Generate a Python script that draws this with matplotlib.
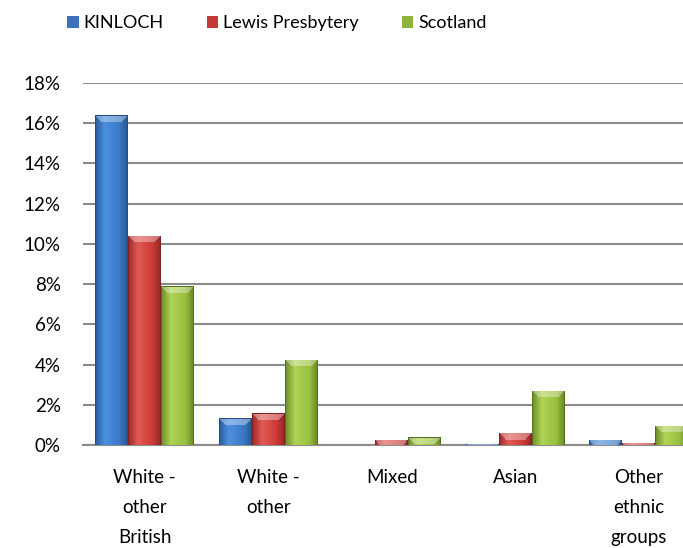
import matplotlib
matplotlib.use("Agg")
import matplotlib.pyplot as plt
import numpy as np
from matplotlib.colors import LinearSegmentedColormap
from matplotlib.ticker import PercentFormatter, MultipleLocator

plt.rcParams['font.family'] = ['Lato', 'DejaVu Sans']

categories = ["White -\nother\nBritish", "White -\nother", "Mixed", "Asian", "Other\nethnic\ngroups"]
series = ["KINLOCH", "Lewis Presbytery", "Scotland"]
kinloch = [0.164, 0.0133, 0.0, 0.0005, 0.0025]
lewis = [0.104, 0.0158, 0.0025, 0.0061, 0.0012]
scotland = [0.079, 0.0423, 0.0038, 0.0269, 0.0095]
values = [kinloch, lewis, scotland]

# dark edge, light, mid, dark edge
shades = [
    ["#2a5c9e", "#4d90e0", "#3b78c6", "#2a5a98"],
    ["#9c2a2a", "#e25a55", "#cc3a36", "#972828"],
    ["#6c8c2a", "#b0d455", "#98bf3e", "#6a8a28"],
]
outline = ["#234d85", "#7f2222", "#55701f"]
legend_cols = ["#3b72bb", "#c43a36", "#8db43a"]

fig = plt.figure(figsize=(6.83, 5.48), dpi=100)
ax = fig.add_axes([0.1215, 0.188, 0.904, 0.6606])
ax.set_xlim(-0.5, len(categories) - 0.5)
ax.set_ylim(0, 0.18)

x = np.arange(len(categories))
w = 0.267
ax_w_px = 0.904 * 683
ax_h_px = 0.6606 * 548
bevel = 7
for i, (name, vals) in enumerate(zip(series, values)):
    cmap = LinearSegmentedColormap.from_list(name, list(zip([0, 0.3, 0.75, 1], shades[i])))
    dark = np.array(matplotlib.colors.to_rgb(outline[i]))
    bars = ax.bar(x + (i - 1) * w, vals, w, color=legend_cols[i], label=name,
                  edgecolor="none", zorder=3)
    for b in bars:
        if b.get_height() <= 0:
            continue
        W = max(2, int(round(b.get_width() / 5 * ax_w_px)))
        H = max(2, int(round(b.get_height() / 0.18 * ax_h_px)))
        cols = cmap(np.linspace(0, 1, W))[:, :3]
        img = np.repeat(cols[None, :, :], H, axis=0)
        for r in range(min(bevel, H)):
            c0, c1 = r, W - r
            img[r, c0:c1] = img[r, c0:c1] * 0.65 + 0.35
        img[:, 0] = dark
        img[:, -1] = dark
        img[0, :] = dark
        im = ax.imshow(img, aspect="auto", zorder=3.5, interpolation="nearest",
                       extent=[b.get_x(), b.get_x() + b.get_width(), 0, b.get_height()])
        im.set_clip_path(b)

ax.set_xlim(-0.5, len(categories) - 0.5)
ax.set_ylim(0, 0.18)
ax.yaxis.set_major_locator(MultipleLocator(0.02))
ax.yaxis.set_major_formatter(PercentFormatter(1.0, decimals=0))
ax.grid(axis="y", color="#8c8c8c", lw=1.5, zorder=0)
for s in ["left", "right", "top"]:
    ax.spines[s].set_visible(False)
ax.spines["bottom"].set_color("#8c8c8c")
ax.spines["bottom"].set_linewidth(1.5)
ax.set_xticks(x)
ax.set_xticklabels(categories, fontsize=13.5, linespacing=1.95)
ax.tick_params(axis="x", length=0, pad=17)
ax.tick_params(axis="y", length=0, pad=16, labelsize=13.5)

fig.legend(loc="center", bbox_to_anchor=(0.405, 0.958), ncol=3, frameon=False,
           fontsize=13, handlelength=0.65, handleheight=0.65, handletextpad=0.25,
           columnspacing=2.4)

fig.savefig("out.png", dpi=100)
